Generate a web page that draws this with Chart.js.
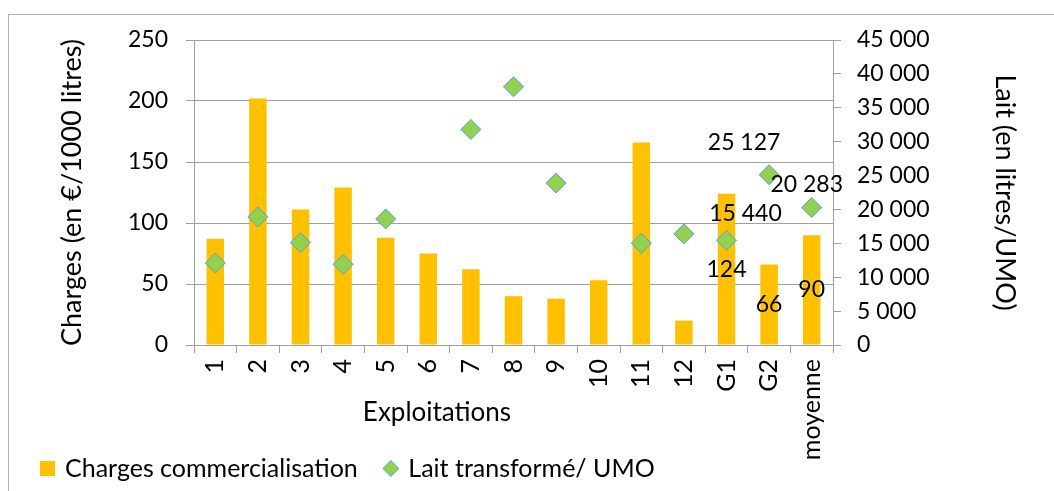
<!DOCTYPE html>
<html>
<head>
<meta charset="utf-8">
<script src="https://cdn.jsdelivr.net/npm/chart.js@4"></script>
<style>
  html, body { margin: 0; padding: 0; background: #fff; }
  #wrap { position: relative; width: 1054px; height: 491px; overflow: hidden; }
  #frame { position: absolute; left: 8px; top: 14px; width: 1200px; height: 700px;
           border-left: 1px solid #b0b0b0; border-top: 1px solid #b0b0b0; }
  canvas { position: absolute; left: 0; top: 0; }
</style>
</head>
<body>
<div id="wrap">
  <div id="frame"></div>
  <canvas id="c" width="1054" height="491"></canvas>
</div>
<script>
const categories = ['1','2','3','4','5','6','7','8','9','10','11','12','G1','G2','moyenne'];
const charges = [87, 202, 111, 129, 88, 75, 62, 40, 38, 53, 166, 20, 124, 66, 90];
const lait = [12100, 18900, 15100, 11900, 18600, null, 31800, 38100, 23900, null, 15000, 16400, 15440, 25127, 20283];
const labelledIdx = [12, 13, 14];
const leftTicks = { min: 0, max: 250, step: 50 };
const rightTicks = { min: 0, max: 45000, step: 5000 };

const FONT = 'Lato';
const BAR_COLOR = '#FFC000';
const PT_FILL = '#92D050';
const PT_BORDER = '#5B9BD5';
const fmt = v => String(Math.round(v)).replace(/\B(?=(\d{3})+(?!\d))/g, ' ');

// legend marker images
function squareIcon() {
  const c = document.createElement('canvas'); c.width = 15; c.height = 15;
  const g = c.getContext('2d'); g.fillStyle = BAR_COLOR; g.fillRect(0, 0, 15, 15);
  return c;
}
function diamondIcon() {
  const c = document.createElement('canvas'); c.width = 18; c.height = 18;
  const g = c.getContext('2d');
  g.beginPath(); g.moveTo(9, 1); g.lineTo(17, 9); g.lineTo(9, 17); g.lineTo(1, 9); g.closePath();
  g.fillStyle = PT_FILL; g.fill(); g.strokeStyle = PT_BORDER; g.lineWidth = 1; g.stroke();
  return c;
}
const legendIcons = [squareIcon(), diamondIcon()];

const labelPlugin = {
  id: 'valueLabels',
  afterDatasetsDraw(chart, args, opts) {
    const ctx = chart.ctx;
    ctx.save();
    ctx.font = '23px ' + FONT;
    ctx.fillStyle = '#000';
    ctx.textAlign = 'center';
    ctx.textBaseline = 'middle';
    const barMeta = chart.getDatasetMeta(0);
    const ptMeta = chart.getDatasetMeta(1);
    labelledIdx.forEach((i, k) => {
      const bar = barMeta.data[i];
      const yc = (bar.y + bar.base) / 2;
      ctx.fillText(fmt(charges[i]), bar.x, yc);
      const pt = ptMeta.data[i];
      const off = opts.pointOffsets[k];
      ctx.fillText(fmt(lait[i]), pt.x + off[0], pt.y + off[1]);
    });
    const ca = chart.chartArea;
    ctx.font = '26px ' + FONT;
    ctx.fillText('Exploitations', ca.left + opts.xTitle[0], ca.bottom + opts.xTitle[1]);
    ctx.restore();
  }
};

new Chart(document.getElementById('c'), {
  type: 'bar',
  data: {
    labels: categories,
    datasets: [
      {
        label: 'Charges commercialisation',
        data: charges,
        backgroundColor: BAR_COLOR,
        borderWidth: 0,
        yAxisID: 'y',
        order: 2,
        categoryPercentage: 1,
        barPercentage: 0.41
      },
      {
        type: 'line',
        label: 'Lait transformé/ UMO',
        data: lait,
        yAxisID: 'y1',
        showLine: false,
        order: 1,
        pointStyle: 'rectRot',
        pointRadius: 10,
        pointHoverRadius: 10,
        pointBackgroundColor: PT_FILL,
        pointBorderColor: PT_BORDER,
        pointBorderWidth: 1,
        backgroundColor: PT_FILL,
        borderColor: PT_BORDER,
        borderWidth: 1
      }
    ]
  },
  options: {
    responsive: false,
    animation: false,
    layout: { padding: { left: 14.5, right: 0, top: 40, bottom: 0 } },
    plugins: {
      tooltip: { enabled: false },
      legend: {
        position: 'bottom',
        align: 'start',
        labels: {
          usePointStyle: true,
          pointStyleWidth: 10,
          boxHeight: 15,
          padding: 28,
          color: '#000',
          font: { family: FONT, size: 25 },
          sort: (a, b) => a.datasetIndex - b.datasetIndex,
          generateLabels: chart => {
            const items = Chart.defaults.plugins.legend.labels.generateLabels(chart);
            items.forEach(it => { it.pointStyle = legendIcons[it.datasetIndex]; });
            return items;
          }
        }
      },
      valueLabels: {
        pointOffsets: [[19, -27], [-25, -32], [-5, -23]],
        xTitle: [243, 68]
      }
    },
    scales: {
      x: {
        offset: true,
        grid: { display: true, drawOnChartArea: false, drawTicks: true, tickLength: 8, color: '#a0a0a0', offset: true },
        border: { color: '#a0a0a0' },
        ticks: { autoSkip: false, minRotation: 90, maxRotation: 90, padding: 6, color: '#000', font: { family: FONT, size: 25 } },
        afterFit: s => {
          s.height = 83;
          // let the rotated tick labels extend past the (shortened) axis box
          s._computeLabelArea = () => undefined;
        }
      },
      y: {
        position: 'left',
        min: leftTicks.min, max: leftTicks.max,
        ticks: { stepSize: leftTicks.step, padding: 18, color: '#000', font: { family: FONT, size: 23 } },
        grid: { color: '#a0a0a0', tickLength: 8 },
        border: { color: '#a0a0a0' },
        title: { display: true, text: 'Charges (en €/1000 litres)', color: '#000', font: { family: FONT, size: 27 }, padding: { top: 42, bottom: 0 } },
        afterFit: s => { s.width = 179.5; }
      },
      y1: {
        position: 'right',
        min: rightTicks.min, max: rightTicks.max,
        ticks: { stepSize: rightTicks.step, padding: 16, color: '#000', font: { family: FONT, size: 23 }, callback: v => fmt(v) },
        grid: { drawOnChartArea: false, color: '#a0a0a0', tickLength: 8 },
        border: { color: '#a0a0a0' },
        title: { display: true, text: 'Lait (en litres/UMO)', color: '#000', font: { family: FONT, size: 27 }, padding: { top: 33, bottom: 0 } },
        afterFit: s => { s.width = 221; }
      }
    }
  },
  plugins: [labelPlugin]
});
</script>
</body>
</html>
